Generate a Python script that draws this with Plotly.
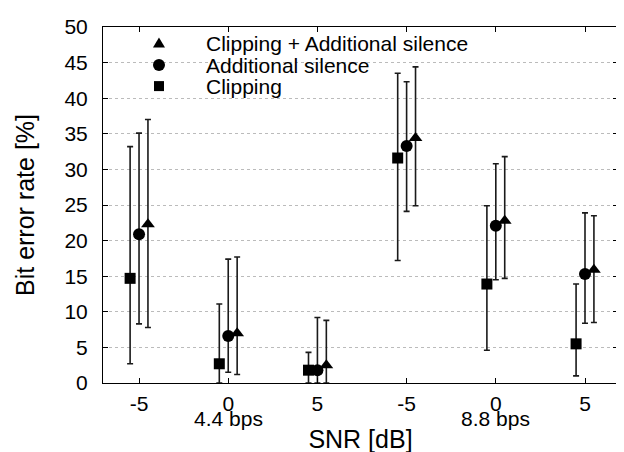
import plotly.graph_objects as go

# ---- data ----
positions = [0, 1, 2, 3, 4, 5]
tick_labels = ["-5", "0", "5", "-5", "0", "5"]
group_labels = ["4.4 bps", "8.8 bps"]
group_label_pos = [1, 4]

clip_val = [14.7, 2.7, 1.8, 31.6, 13.9, 5.5]
clip_lo = [2.7, 0.0, 0.0, 17.2, 4.6, 1.0]
clip_hi = [33.2, 11.1, 4.3, 43.5, 24.9, 13.9]

sil_val = [20.9, 6.6, 1.8, 33.3, 22.1, 15.3]
sil_lo = [8.3, 1.5, 0.0, 24.1, 14.5, 8.4]
sil_hi = [35.1, 17.4, 9.2, 42.3, 30.8, 23.9]

both_val = [22.3, 7.0, 2.5, 34.4, 22.8, 15.9]
both_lo = [7.8, 1.2, 0.0, 24.9, 14.7, 8.5]
both_hi = [37.0, 17.7, 8.8, 44.4, 31.8, 23.5]

FONT = "Liberation Sans, Arial, Helvetica, sans-serif"
FS = 21
LFS = 21

series = [
    ("Clipping", clip_val, clip_lo, clip_hi, "square", 11, -0.1),
    ("Additional silence", sil_val, sil_lo, sil_hi, "circle", 12, 0.0),
    ("Clipping + Additional silence", both_val, both_lo, both_hi, "triangle-up", 12, 0.1),
]

fig = go.Figure()
for name, val, lo, hi, sym, size, off in series:
    fig.add_trace(go.Scatter(
        x=[p + off for p in positions], y=val, mode="markers", name=name,
        showlegend=False,
        marker=dict(symbol=sym, size=size, color="black"),
        error_y=dict(type="data", symmetric=False,
                     array=[h - v for h, v in zip(hi, val)],
                     arrayminus=[v - l for v, l in zip(val, lo)],
                     color="#1a1a1a", thickness=1.6, width=3),
    ))

# manual legend (symbols + text)
leg_x = 0.1087
leg_rows = [
    ("Clipping + Additional silence", "tri", 0.954),
    ("Additional silence", "circle", 0.893),
    ("Clipping", "square", 0.834),
]
for text, kind, yy in leg_rows:
    fig.add_annotation(x=0.196, y=yy, xref="paper", yref="paper", text=text,
                       showarrow=False, xanchor="left", yanchor="middle",
                       font=dict(family=FONT, size=LFS, color="black"))
    common = dict(xref="paper", yref="paper", xsizemode="pixel", ysizemode="pixel",
                  xanchor=leg_x, yanchor=yy, fillcolor="black", line=dict(width=0))
    if kind == "square":
        fig.add_shape(type="rect", x0=-5, x1=5, y0=-5, y1=5, **common)
    elif kind == "circle":
        fig.add_shape(type="circle", x0=-6, x1=6, y0=-6, y1=6, **common)
    else:
        fig.add_shape(type="path", path="M-6,-4 L6,-4 L0,6 Z", **common)

for t, p in zip(group_labels, group_label_pos):
    fig.add_annotation(x=p, y=-0.1, xref="x", yref="paper", text=t, showarrow=False,
                       xanchor="center", yanchor="middle",
                       font=dict(family=FONT, size=FS, color="black"))

# the page body adds an 8px offset; margins compensate so the plot area
# spans x 103..618 and y 15..383 on screen
fig.update_layout(
    width=624, height=452,
    margin=dict(l=95, r=14, t=7, b=77),
    paper_bgcolor="white", plot_bgcolor="white",
    font=dict(family=FONT, size=FS, color="black"),
    xaxis=dict(range=[-0.404, 5.37], tickvals=positions, ticktext=tick_labels,
               showline=True, linecolor="black", linewidth=1, mirror="ticks",
               ticks="inside", ticklen=5, tickcolor="black", showgrid=False,
               zeroline=False, ticklabelstandoff=2,
               title=dict(text="SNR [dB]", standoff=16)),
    yaxis=dict(range=[0, 50], dtick=5, showline=True, linecolor="black", linewidth=1,
               mirror="ticks", ticks="inside", ticklen=5, tickcolor="black",
               showgrid=True, gridcolor="#bbbbbb", griddash="dot", gridwidth=1,
               zeroline=False, ticklabelstandoff=10, ticklabeloverflow="allow",
               title=dict(text="Bit error rate [%]", standoff=22)),
)

fig.write_html("out.html")
